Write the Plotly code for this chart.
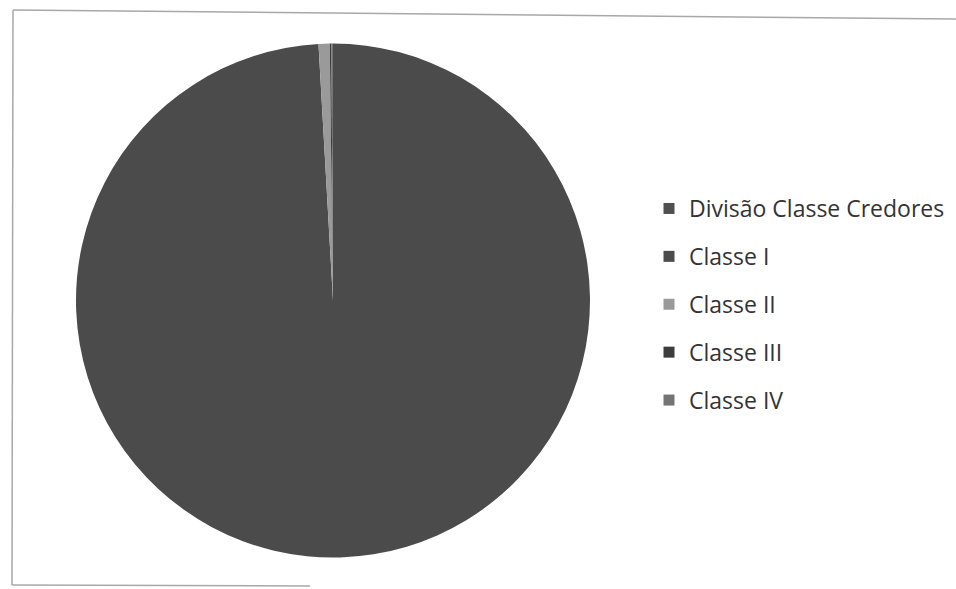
import plotly.graph_objects as go

# Credor classes and their shares of the total
labels = ["Divisão Classe Credores", "Classe I", "Classe II", "Classe III", "Classe IV"]
values = [0, 99.1, 0.7, 0.1, 0.1]
colors = ["#505050", "#4b4b4b", "#9a9a9a", "#3c3c3c", "#747474"]

W, H = 956, 589

fig = go.Figure()

fig.add_trace(go.Pie(
    labels=labels,
    values=values,
    marker=dict(colors=colors, line=dict(width=0)),
    sort=False,
    direction="clockwise",
    rotation=0,
    textinfo="none",
    showlegend=False,
    domain=dict(x=[76 / W, 590 / W], y=[1 - 559 / H, 1 - 42 / H]),
))

# Legend entries, one group each so the rows are spaced apart
for i, (lab, col) in enumerate(zip(labels, colors)):
    fig.add_trace(go.Scatter(
        x=[None], y=[None], mode="markers", name=lab,
        marker=dict(symbol="square", size=11, color=col),
        legendgroup=f"g{i}", hoverinfo="skip",
    ))

# Thin grey chart frame
frame = "#a8a8a8"
fig.add_shape(type="line", xref="paper", yref="paper",
              x0=13 / W, y0=1 - 10 / H, x1=1, y1=1 - 19 / H,
              line=dict(color=frame, width=1.5))
fig.add_shape(type="line", xref="paper", yref="paper",
              x0=13 / W, y0=1 - 10 / H, x1=12 / W, y1=1 - 585 / H,
              line=dict(color=frame, width=1.5))
fig.add_shape(type="line", xref="paper", yref="paper",
              x0=12 / W, y0=1 - 585 / H, x1=310 / W, y1=1 - 586 / H,
              line=dict(color=frame, width=1.5))

fig.update_layout(
    width=W, height=H,
    margin=dict(l=0, r=0, t=0, b=0),
    paper_bgcolor="white",
    plot_bgcolor="white",
    xaxis=dict(visible=False),
    yaxis=dict(visible=False),
    font=dict(family="Open Sans", color="#333333"),
    legend=dict(
        x=649 / W, xanchor="left",
        y=1 - 187 / H, yanchor="top",
        font=dict(size=23, color="#333333"),
        tracegroupgap=15,
        itemwidth=30,
        bgcolor="rgba(0,0,0,0)",
    ),
)

fig.write_html("out.html")
